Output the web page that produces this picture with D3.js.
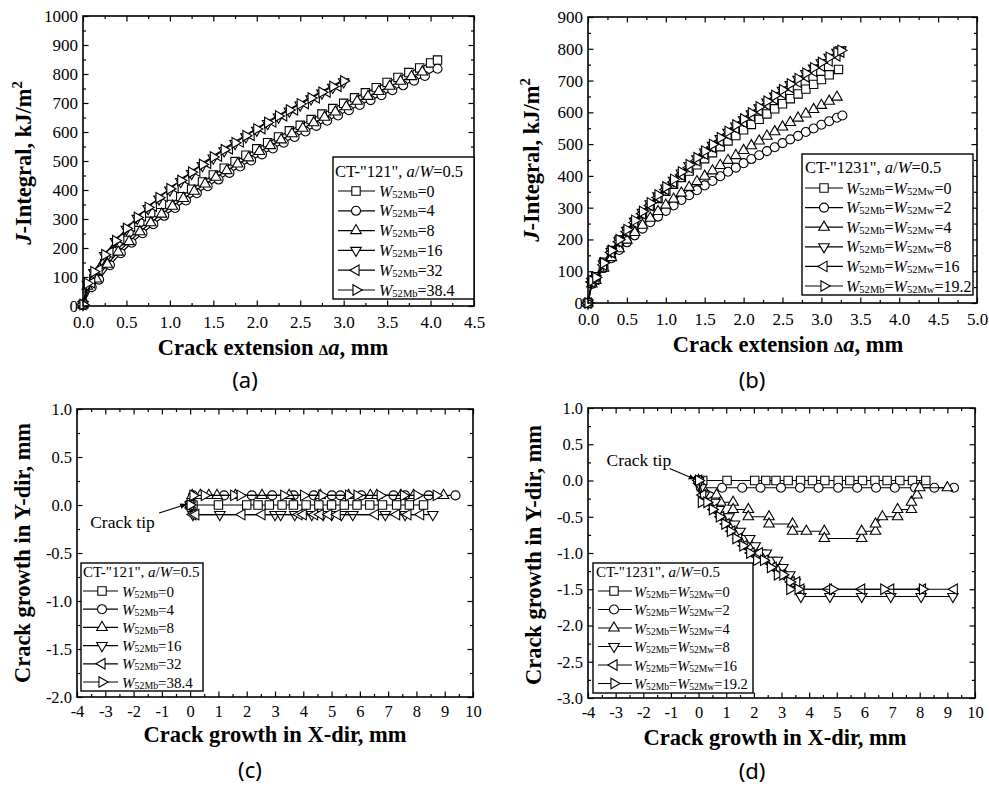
<!DOCTYPE html>
<html>
<head>
<meta charset="utf-8">
<script src="https://cdnjs.cloudflare.com/ajax/libs/d3/7.8.5/d3.min.js"></script>
<style>
  body { margin: 0; background: #fff; }
</style>
</head>
<body>
<div id="plot"></div>
<script>
// ---------------- Data ----------------
// (a) CT-"121": J-integral vs crack extension
var aX_W0 = [0, 0.06, 0.125, 0.25, 0.375, 0.5, 0.625, 0.75, 0.875, 1.0, 1.125, 1.25, 1.375, 1.5, 1.625, 1.75, 1.875, 2.0, 2.125, 2.25, 2.375, 2.5, 2.625, 2.75, 2.875, 3.0, 3.125, 3.25, 3.375, 3.5, 3.625, 3.75, 3.875, 4.0, 4.08];
var aJ_W0 = [5, 70, 95, 146, 189, 226, 260, 292, 322, 350, 377, 403, 428, 452, 475, 498, 520, 542, 563, 583, 604, 623, 643, 662, 681, 699, 718, 735, 753, 771, 788, 805, 821, 838, 848];
var aX_W4 = [0, 0.1, 0.185, 0.31, 0.435, 0.56, 0.685, 0.81, 0.935, 1.06, 1.185, 1.31, 1.435, 1.56, 1.685, 1.81, 1.935, 2.06, 2.185, 2.31, 2.435, 2.56, 2.685, 2.81, 2.935, 3.06, 3.185, 3.31, 3.435, 3.56, 3.685, 3.81, 3.935, 4.08];
var aJ_W4 = [5, 65, 91, 141, 182, 218, 251, 282, 311, 338, 364, 389, 413, 436, 459, 481, 502, 523, 543, 563, 583, 602, 621, 639, 657, 675, 693, 710, 727, 744, 761, 777, 793, 818];
var aX_W8 = [0, 0.05, 0.155, 0.28, 0.405, 0.53, 0.655, 0.78, 0.905, 1.03, 1.155, 1.28, 1.405, 1.53, 1.655, 1.78, 1.905, 2.03, 2.155, 2.28, 2.405, 2.53, 2.655, 2.78, 2.905, 3.03, 3.155, 3.28, 3.405, 3.53, 3.655, 3.78, 3.905];
var aJ_W8 = [5, 68, 93, 144, 186, 222, 256, 287, 317, 344, 371, 396, 421, 444, 467, 490, 511, 533, 553, 573, 594, 613, 632, 651, 669, 687, 706, 723, 740, 758, 775, 791, 807];
var aX_W16 = [0, 0.05, 0.125, 0.25, 0.375, 0.5, 0.625, 0.75, 0.875, 1.0, 1.125, 1.25, 1.375, 1.5, 1.625, 1.75, 1.875, 2.0, 2.125, 2.25, 2.375, 2.5, 2.625, 2.75, 2.875, 3.0];
var aJ_W16 = [5, 75, 115, 174, 222, 264, 302, 336, 369, 400, 429, 457, 484, 510, 535, 560, 583, 606, 629, 651, 672, 693, 714, 734, 754, 773];
var aX_W32 = [0, 0.1, 0.185, 0.31, 0.435, 0.56, 0.685, 0.81, 0.935, 1.06, 1.185, 1.31, 1.435, 1.56, 1.685, 1.81, 1.935, 2.06, 2.185, 2.31, 2.435, 2.56, 2.685, 2.81, 2.935];
var aJ_W32 = [5, 80, 125, 184, 232, 274, 311, 345, 378, 408, 437, 465, 492, 517, 542, 566, 589, 612, 635, 656, 677, 698, 718, 738, 758];
var aJ_W384 = [5, 78, 118, 177, 225, 267, 305, 340, 373, 404, 433, 461, 488, 514, 539, 563, 587, 610, 633, 655, 676, 697, 717, 737, 757, 776];

// (b) CT-"1231": J-integral vs crack extension
var bX_W0 = [0, 0.05, 0.1, 0.2, 0.3, 0.4, 0.5, 0.6, 0.7, 0.8, 0.9, 1.0, 1.1, 1.2, 1.3, 1.4, 1.5, 1.6, 1.7, 1.8, 1.9, 2.0, 2.1, 2.2, 2.3, 2.4, 2.5, 2.6, 2.7, 2.8, 2.9, 3.0, 3.1, 3.22];
var bJ_W0 = [0, 65, 83, 128, 165, 198, 227, 255, 281, 306, 329, 352, 374, 395, 415, 435, 454, 473, 492, 510, 527, 545, 562, 578, 595, 611, 627, 643, 658, 673, 688, 703, 718, 735];
var bX_W2 = [0, 0.05, 0.1, 0.2, 0.3, 0.4, 0.5, 0.6, 0.7, 0.8, 0.9, 1.0, 1.1, 1.2, 1.3, 1.4, 1.5, 1.6, 1.7, 1.8, 1.9, 2.0, 2.1, 2.2, 2.3, 2.4, 2.5, 2.6, 2.7, 2.8, 2.9, 3.0, 3.1, 3.2, 3.27];
var bJ_W2 = [0, 60, 73, 110, 141, 167, 191, 213, 234, 254, 272, 290, 307, 324, 339, 355, 370, 384, 399, 413, 426, 440, 453, 465, 478, 490, 503, 515, 526, 538, 549, 561, 572, 583, 590];
var bX_W4 = [0, 0.05, 0.1, 0.2, 0.3, 0.4, 0.5, 0.6, 0.7, 0.8, 0.9, 1.0, 1.1, 1.2, 1.3, 1.4, 1.5, 1.6, 1.7, 1.8, 1.9, 2.0, 2.1, 2.2, 2.3, 2.4, 2.5, 2.6, 2.7, 2.8, 2.9, 3.0, 3.1, 3.2];
var bJ_W4 = [0, 60, 71, 110, 143, 171, 198, 222, 245, 267, 288, 308, 327, 346, 364, 382, 399, 416, 433, 449, 464, 480, 495, 510, 525, 539, 554, 568, 582, 595, 609, 622, 635, 648];
var bX_top = [0, 0.05, 0.1, 0.2, 0.3, 0.4, 0.5, 0.6, 0.7, 0.8, 0.9, 1.0, 1.1, 1.2, 1.3, 1.4, 1.5, 1.6, 1.7, 1.8, 1.9, 2.0, 2.1, 2.2, 2.3, 2.4, 2.5, 2.6, 2.7, 2.8, 2.9, 3.0, 3.1, 3.2, 3.25];
var bJ_W8 = [0, 68, 77, 123, 162, 196, 228, 257, 285, 312, 337, 362, 386, 409, 432, 454, 475, 496, 517, 537, 557, 576, 595, 614, 632, 651, 669, 687, 704, 722, 739, 756, 773, 789, 797];
var bJ_W16 = [0, 66, 75, 120, 159, 193, 224, 253, 281, 307, 332, 357, 380, 403, 426, 448, 469, 490, 510, 530, 550, 569, 588, 606, 624, 642, 660, 678, 695, 712, 729, 746, 762, 778, 790];
var bJ_W192 = [0, 70, 80, 126, 165, 199, 231, 260, 288, 315, 340, 365, 389, 412, 435, 457, 478, 499, 520, 540, 560, 579, 598, 617, 635, 653, 671, 689, 706, 723, 740, 757, 773, 788, 795];

// (c) CT-"121": crack path [x, y] in mm
var cPath_W0 = [[0, 0], [0.1, 0], [1.0, 0], [2.0, 0], [2.4, 0], [2.8, 0], [3.25, 0], [3.65, 0], [4.1, 0], [4.55, 0], [5.0, 0], [5.45, 0], [5.9, 0], [6.35, 0], [6.8, 0], [7.3, 0], [7.75, 0], [8.25, 0]];
var cPath_W4 = [[0, 0], [0.1, 0.1], [1.2, 0.1], [2.18, 0.1], [2.9, 0.1], [3.66, 0.1], [4.37, 0.1], [5.01, 0.1], [5.31, 0.1], [6.05, 0.1], [7.19, 0.1], [7.6, 0.1], [8.43, 0.1], [9.38, 0.1]];
var cPath_W8 = [[0, 0], [0.07, 0.1], [0.36, 0.1], [0.66, 0.1], [0.95, 0.1], [1.6, 0.1], [2.54, 0.1], [3.5, 0.1], [4.6, 0.1], [5.6, 0.1], [6.37, 0.1], [6.6, 0.1], [7.45, 0.1], [7.9, 0.1], [8.96, 0.1]];
var cPath_W16 = [[0, 0], [0.1, -0.1], [1.05, -0.1], [3.0, -0.1], [3.2, -0.1], [3.7, -0.1], [4.3, -0.1], [4.7, -0.1], [5.0, -0.1], [5.35, -0.1], [5.75, -0.1], [6.9, -0.1], [7.6, -0.1], [8.58, -0.1]];
var cPath_W32 = [[0, 0], [0.1, -0.1], [0.2, -0.1], [1.83, -0.1], [2.54, -0.1], [3.85, -0.1], [4.0, -0.1], [4.4, -0.1], [4.6, -0.1], [4.9, -0.1], [5.2, -0.1], [6.55, -0.1], [7.3, -0.1], [7.7, -0.1], [8.15, -0.1]];
var cPath_W384 = [[0, 0], [0.1, 0.1], [0.5, 0.1], [1.54, 0.1], [1.77, 0.1], [3.31, 0.1], [4.01, 0.1], [4.66, 0.1], [5.6, 0.1], [5.9, 0.1], [6.72, 0.1], [7.54, 0.1], [8.02, 0.1], [8.7, 0.1]];

// (d) CT-"1231": crack path [x, y] in mm
var dPath_W0 = [[0, 0], [0.15, 0], [1.03, 0], [2.03, 0], [2.43, 0], [2.8, 0], [3.24, 0], [3.69, 0], [4.12, 0], [4.57, 0], [5.05, 0], [5.47, 0], [5.93, 0], [6.38, 0], [6.82, 0], [7.28, 0], [7.74, 0], [8.22, 0]];
var dPath_W2 = [[0, 0], [0.08, -0.1], [0.85, -0.1], [1.58, -0.1], [2.24, -0.1], [2.98, -0.1], [3.67, -0.1], [4.34, -0.1], [5.05, -0.1], [5.74, -0.1], [6.42, -0.1], [7.1, -0.1], [7.83, -0.1], [8.53, -0.1], [9.24, -0.1]];
var dPath_W4 = [[0, 0], [0.15, -0.1], [0.65, -0.2], [0.8, -0.3], [1.25, -0.3], [1.25, -0.4], [1.8, -0.4], [1.8, -0.5], [2.55, -0.5], [2.55, -0.6], [3.4, -0.6], [3.4, -0.7], [3.9, -0.7], [4.55, -0.7], [4.55, -0.8], [5.9, -0.8], [5.9, -0.7], [6.4, -0.7], [6.4, -0.6], [6.65, -0.5], [7.2, -0.5], [7.2, -0.4], [7.7, -0.4], [7.7, -0.3], [7.9, -0.2], [8.0, -0.1], [9.0, -0.1]];
var dPath_W8 = [[0, 0], [0.1, -0.1], [0.2, -0.2], [0.45, -0.3], [0.6, -0.3], [0.75, -0.4], [0.9, -0.5], [1.1, -0.5], [1.3, -0.6], [1.5, -0.7], [1.7, -0.8], [1.85, -0.8], [2.05, -0.9], [2.25, -1.0], [2.45, -1.0], [2.65, -1.1], [2.85, -1.1], [3.05, -1.2], [3.3, -1.3], [3.5, -1.4], [3.65, -1.5], [3.7, -1.6], [4.75, -1.6], [5.9, -1.6], [6.95, -1.6], [8.05, -1.6], [9.2, -1.6]];
var dPath_W16 = [[0, 0], [0.15, -0.2], [0.35, -0.3], [0.55, -0.4], [0.8, -0.5], [1.0, -0.6], [1.2, -0.7], [1.45, -0.8], [1.65, -0.9], [1.9, -1.0], [2.2, -1.0], [2.4, -1.1], [2.7, -1.2], [3.0, -1.3], [3.35, -1.4], [3.55, -1.4], [3.7, -1.5], [4.7, -1.5], [5.9, -1.5], [6.95, -1.5], [8.1, -1.5], [9.25, -1.5]];
var dPath_W192 = [[0, 0], [0.1, -0.3], [0.3, -0.3], [0.5, -0.4], [0.75, -0.5], [0.95, -0.6], [1.15, -0.7], [1.35, -0.8], [1.6, -0.9], [1.85, -1.0], [2.1, -1.1], [2.35, -1.1], [2.6, -1.2], [2.85, -1.3], [3.05, -1.3], [3.3, -1.4], [3.3, -1.5], [3.6, -1.5], [4.85, -1.5], [6.7, -1.5], [8.1, -1.5]];

// Tick labels
var aXTicks = [0, 0.5, 1.0, 1.5, 2.0, 2.5, 3.0, 3.5, 4.0, 4.5];
var aYTicks = [0, 100, 200, 300, 400, 500, 600, 700, 800, 900, 1000];
var bXTicks = [0, 0.5, 1.0, 1.5, 2.0, 2.5, 3.0, 3.5, 4.0, 4.5, 5.0];
var bYTicks = [0, 100, 200, 300, 400, 500, 600, 700, 800, 900];
var cdXTicks = [-4, -3, -2, -1, 0, 1, 2, 3, 4, 5, 6, 7, 8, 9, 10];
var cYTicks = [-2.0, -1.5, -1.0, -0.5, 0.0, 0.5, 1.0];
var dYTicks = [-3.0, -2.5, -2.0, -1.5, -1.0, -0.5, 0.0, 0.5, 1.0];

// Legend labels
var acLegend = ["0", "4", "8", "16", "32", "38.4"];
var bdLegend = ["0", "2", "4", "8", "16", "19.2"];

// ---------------- Canvas ----------------
var svgWidth = 989;
var svgHeight = 786;
var serif = "'Liberation Serif', 'Times New Roman', serif";

var svg = d3.select("#plot")
  .append("svg")
  .attr("width", svgWidth)
  .attr("height", svgHeight)
  .attr("font-family", serif);

svg.append("defs").append("marker")
  .attr("id", "arrow")
  .attr("viewBox", "0 0 10 10")
  .attr("refX", 10).attr("refY", 5)
  .attr("markerWidth", 7).attr("markerHeight", 7)
  .attr("markerUnits", "userSpaceOnUse")
  .attr("orient", "auto")
  .append("path")
  .attr("d", "M0,1 L10,5 L0,9 Z")
  .attr("fill", "#000");

// marker shapes (rotation turns the triangle)
var shapes = [
  { type: d3.symbolSquare, size: 70, rot: 0 },
  { type: d3.symbolCircle, size: 64, rot: 0 },
  { type: d3.symbolTriangle, size: 48, rot: 0 },
  { type: d3.symbolTriangle, size: 48, rot: 180 },
  { type: d3.symbolTriangle, size: 48, rot: -90 },
  { type: d3.symbolTriangle, size: 48, rot: 90 }
];

function drawSymbol(g, shape, px, py) {
  g.append("path")
    .attr("d", d3.symbol().type(shape.type).size(shape.size)())
    .attr("transform", `translate(${px},${py}) rotate(${shape.rot})`)
    .attr("fill", "#fff")
    .attr("stroke", "#000")
    .attr("stroke-width", 1.1);
}

// text made of plain / italic / subscript pieces
function richText(textSel, parts, size, subRatio) {
  parts.forEach(function(p) {
    textSel.append("tspan")
      .attr("font-size", p.sub ? size * (subRatio || 0.66) : size)
      .attr("font-style", p.it ? "italic" : null)
      .attr("dy", p.dy || null)
      .text(p.t);
  });
}

function legendLabel(val, isB) {
  var parts = [{ t: "W", it: true }, { t: "52Mb", sub: true, dy: 1 }];
  if (isB) {
    parts.push({ t: "=", dy: -1 }, { t: "W", it: true }, { t: "52Mw", sub: true, dy: 1 });
  }
  parts.push({ t: "=" + val, dy: -1 });
  return parts;
}

function drawPanel(p) {
  var b = p.box;
  var x = d3.scaleLinear().domain(p.xDomain).range([b.left, b.right]);
  var y = d3.scaleLinear().domain(p.yDomain).range([b.bottom, b.top]);
  var g = svg.append("g");

  function addAxis(axisFn, scale, tr, values, size, fmt, pad) {
    var ax = axisFn(scale)
      .tickValues(values)
      .tickSize(-size)
      .tickSizeOuter(0)
      .tickPadding(pad || 0)
      .tickFormat(fmt || function() { return ""; });
    var ag = g.append("g").attr("transform", tr).call(ax);
    ag.select(".domain").remove();
    ag.attr("font-family", serif).attr("font-size", p.tickFont);
    ag.selectAll("line").attr("stroke", "#000").attr("stroke-width", 1.2);
    ag.selectAll("text").attr("fill", "#000");
    return ag;
  }

  // major + minor ticks on all four sides, pointing inward
  var sides = [
    [d3.axisBottom, x, `translate(0,${b.bottom})`, p.xTicks, p.xMinor, p.xFmt, p.xPad],
    [d3.axisTop, x, `translate(0,${b.top})`, p.xTicks, p.xMinor, null, 0],
    [d3.axisLeft, y, `translate(${b.left},0)`, p.yTicks, p.yMinor, p.yFmt, 5],
    [d3.axisRight, y, `translate(${b.right},0)`, p.yTicks, p.yMinor, null, 0]
  ];
  sides.forEach(function(s) {
    addAxis(s[0], s[1], s[2], s[4], 3, null, 0);
    addAxis(s[0], s[1], s[2], s[3], 5.5, s[5], s[6]);
  });

  // series: line then markers
  var line = d3.line().x(d => x(d[0])).y(d => y(d[1]));
  p.series.forEach(function(s, i) {
    g.append("path")
      .attr("d", line(s))
      .attr("fill", "none")
      .attr("stroke", "#000")
      .attr("stroke-width", 1.2);
    s.forEach(function(d) { drawSymbol(g, shapes[i], x(d[0]), y(d[1])); });
  });

  // frame
  g.append("rect")
    .attr("x", b.left).attr("y", b.top)
    .attr("width", b.right - b.left).attr("height", b.bottom - b.top)
    .attr("fill", "none").attr("stroke", "#000").attr("stroke-width", 1.6);

  // legend
  var L = p.legend;
  g.append("rect")
    .attr("x", L.x).attr("y", L.y).attr("width", L.w).attr("height", L.h)
    .attr("fill", "#fff").attr("stroke", "#000").attr("stroke-width", 1.4);
  richText(g.append("text").attr("x", L.titleX).attr("y", L.titleY), L.title, L.titleFont);
  p.series.forEach(function(s, i) {
    var ry = L.rowY0 + i * L.rowStep;
    g.append("line")
      .attr("x1", L.lineX[0]).attr("x2", L.lineX[1])
      .attr("y1", ry).attr("y2", ry)
      .attr("stroke", "#000").attr("stroke-width", 1.2);
    drawSymbol(g, shapes[i], L.symX, ry);
    richText(g.append("text").attr("x", L.textX).attr("y", ry + 5.5),
      legendLabel(L.labels[i], L.isB), L.font, 0.66);
  });

  // axis titles
  var xt = g.append("text")
    .attr("x", p.xTitle[0]).attr("y", p.xTitle[1])
    .attr("text-anchor", "middle").attr("font-weight", "bold");
  richText(xt, p.xTitleParts, 22.5);

  var yt = g.append("text")
    .attr("transform", `translate(${p.yTitle[0]},${p.yTitle[1]}) rotate(-90)`)
    .attr("text-anchor", "middle").attr("font-weight", "bold");
  richText(yt, p.yTitleParts, 22.5);

  // panel label
  g.append("text")
    .attr("x", p.label[0]).attr("y", p.label[1])
    .attr("text-anchor", "middle")
    .attr("font-family", "'Noto Sans', 'Open Sans', sans-serif")
    .attr("font-size", 22)
    .text(p.label[2]);

  // crack tip annotation
  if (p.tip) {
    var ox = x(0), oy = y(0);
    g.append("text")
      .attr("x", ox + p.tip.tx).attr("y", oy + p.tip.ty)
      .attr("font-family", serif)
      .attr("font-size", 17.5)
      .text("Crack tip");
    g.append("line")
      .attr("x1", ox + p.tip.ax).attr("y1", oy + p.tip.ay)
      .attr("x2", ox - 3).attr("y2", oy - 1)
      .attr("stroke", "#000").attr("stroke-width", 1.1)
      .attr("marker-end", "url(#arrow)");
  }
}

var fmt1 = v => v.toFixed(1);
var fmt0 = v => String(v);
var jTitle = [{ t: "J", it: true }, { t: "-Integral, kJ/m" }, { t: "2", sub: true, dy: -9 }];
var daTitle = [{ t: "Crack extension " }, { t: "\u2206", sub: true }, { t: "a", it: true }, { t: ", mm" }];
var titleA = [{ t: "CT-\"121\", " }, { t: "a", it: true }, { t: "/" }, { t: "W", it: true }, { t: "=0.5" }];
var titleB = [{ t: "CT-\"1231\", " }, { t: "a", it: true }, { t: "/" }, { t: "W", it: true }, { t: "=0.5" }];

// (a)
drawPanel({
  box: { left: 83, right: 474, top: 16, bottom: 306 },
  xDomain: [0, 4.5], yDomain: [0, 1000], tickFont: 17,
  xTicks: aXTicks, xMinor: d3.range(0.25, 4.5, 0.5), xFmt: fmt1, xPad: 10,
  yTicks: aYTicks, yMinor: d3.range(50, 1000, 100), yFmt: fmt0,
  series: [d3.zip(aX_W0, aJ_W0), d3.zip(aX_W4, aJ_W4), d3.zip(aX_W8, aJ_W8),
           d3.zip(aX_W16, aJ_W16), d3.zip(aX_W32, aJ_W32), d3.zip(aX_W16, aJ_W384)],
  legend: { x: 333, y: 157, w: 141, h: 142, font: 16, titleFont: 16.5, title: titleA, titleX: 335, titleY: 177,
            rowY0: 191, rowStep: 19.8, lineX: [338, 375], symX: 356, textX: 379, labels: acLegend, isB: false },
  xTitle: [273, 355], xTitleParts: daTitle,
  yTitle: [31, 163], yTitleParts: jTitle,
  label: [245, 388, "(a)"]
});

// (b)
drawPanel({
  box: { left: 588, right: 977, top: 17, bottom: 303 },
  xDomain: [0, 5], yDomain: [0, 900], tickFont: 17,
  xTicks: bXTicks, xMinor: d3.range(0.25, 5, 0.5), xFmt: fmt1, xPad: 10,
  yTicks: bYTicks, yMinor: d3.range(50, 900, 100), yFmt: fmt0,
  series: [d3.zip(bX_W0, bJ_W0), d3.zip(bX_W2, bJ_W2), d3.zip(bX_W4, bJ_W4),
           d3.zip(bX_top, bJ_W8), d3.zip(bX_top, bJ_W16), d3.zip(bX_top, bJ_W192)],
  legend: { x: 802, y: 154, w: 171, h: 141, font: 16, titleFont: 16.5, title: titleB, titleX: 805, titleY: 173,
            rowY0: 188, rowStep: 19.6, lineX: [805, 843], symX: 824, textX: 846, labels: bdLegend, isB: true },
  xTitle: [788, 352], xTitleParts: daTitle,
  yTitle: [539, 160], yTitleParts: jTitle,
  label: [752, 388, "(b)"]
});

// (c)
drawPanel({
  box: { left: 77, right: 473, top: 409, bottom: 697 },
  xDomain: [-4, 10], yDomain: [-2, 1], tickFont: 16.5,
  xTicks: cdXTicks, xMinor: d3.range(-3.5, 10, 1), xFmt: fmt0, xPad: 8,
  yTicks: cYTicks, yMinor: d3.range(-1.75, 1, 0.5), yFmt: fmt1,
  series: [cPath_W0, cPath_W4, cPath_W8, cPath_W16, cPath_W32, cPath_W384],
  legend: { x: 81, y: 563, w: 122, h: 128, font: 15, titleFont: 15, title: titleA, titleX: 83, titleY: 577,
            rowY0: 591, rowStep: 18.2, lineX: [83, 118], symX: 102, textX: 122, labels: acLegend, isB: false },
  xTitle: [275, 742], xTitleParts: [{ t: "Crack growth in X-dir, mm" }],
  yTitle: [30, 553], yTitleParts: [{ t: "Crack growth in Y-dir, mm" }],
  label: [250, 778, "(c)"],
  tip: { tx: -100, ty: 23, ax: -31, ay: 8 }
});

// (d)
drawPanel({
  box: { left: 588, right: 975, top: 408, bottom: 698 },
  xDomain: [-4, 10], yDomain: [-3, 1], tickFont: 16.5,
  xTicks: cdXTicks, xMinor: d3.range(-3.5, 10, 1), xFmt: fmt0, xPad: 8,
  yTicks: dYTicks, yMinor: d3.range(-2.75, 1, 0.5), yFmt: fmt1,
  series: [dPath_W0, dPath_W2, dPath_W4, dPath_W8, dPath_W16, dPath_W192],
  legend: { x: 593, y: 563, w: 160, h: 130, font: 14.5, titleFont: 15, title: titleB, titleX: 596, titleY: 577,
            rowY0: 591, rowStep: 18.5, lineX: [598, 632], symX: 614, textX: 634, labels: bdLegend, isB: true },
  xTitle: [775, 745], xTitleParts: [{ t: "Crack growth in X-dir, mm" }],
  yTitle: [541, 555], yTitleParts: [{ t: "Crack growth in Y-dir, mm" }],
  label: [752, 779, "(d)"],
  tip: { tx: -92, ty: -15, ax: -29, ay: -12 }
});
</script>
</body>
</html>
